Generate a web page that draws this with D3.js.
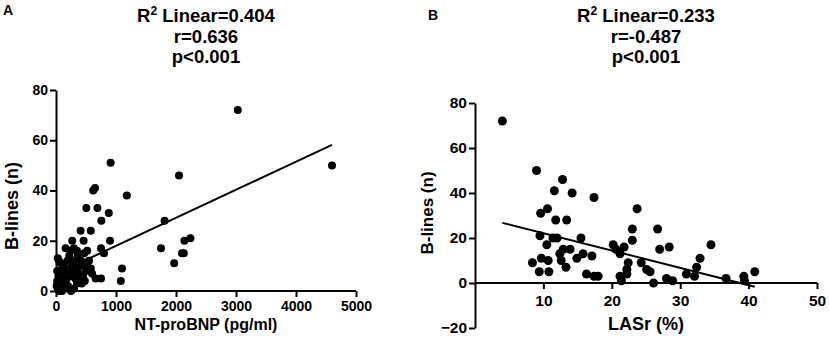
<!DOCTYPE html>
<html>
<head>
<meta charset="utf-8">
<script src="https://cdn.jsdelivr.net/npm/d3@7"></script>
<style>
  body { margin: 0; background: #fff; }
  svg { font-family: "Liberation Sans", Arial, sans-serif; font-weight: bold; }
</style>
</head>
<body>
<script>
const width = 829;
const height = 345;

// Panel A: NT-proBNP (pg/ml) vs B-lines (n)
const bnpX = [3030, 4600, 2050, 1810, 1750, 2140, 2240, 2100, 2130, 1970,
  910, 620, 650, 1180, 505, 690, 880, 755, 410, 580, 270, 460, 900, 160, 750, 800, 1100, 1080, 660, 750,
  30, 50, 80, 120, 60, 100, 40, 150, 200, 20, 70, 110, 30, 50, 90, 130, 180, 160, 200, 240,
  260, 300, 280, 320, 350, 380, 400, 420, 360, 220, 240, 190, 330, 450, 480, 500, 520, 550, 580, 600,
  430, 300, 250, 150, 100, 10, 20, 350, 300, 470, 520, 400];
const bnpY = [72, 50, 46, 28, 17, 20, 21, 15, 15, 11,
  51, 40, 41, 38, 33, 33, 31, 28, 24, 24, 20, 20, 20, 17, 17, 15, 9, 4, 5, 5,
  13, 12, 11, 10, 8, 7, 6, 9, 8, 4, 3, 2, 1, 0, 5, 4, 5, 3, 2, 6,
  10, 12, 8, 5, 3, 7, 10, 12, 14, 14, 16, 12, 9, 6, 4, 8, 10, 12, 9, 7,
  3, 1, 0, 1, 0, 2, 8, 16, 17, 15, 16, 5];
const fitA = { intercept: 6.8, slope: 0.01117 };
const statsA = ["0.404", "r=0.636", "p<0.001"];

// Panel B: LASr (%) vs B-lines (n)
const lasX = [4, 9, 12.8, 11.6, 14.2, 17.4, 9.6, 10.6, 11.8, 13.4,
  9.5, 11.4, 12, 15.5, 10.5, 12.9, 13.9, 12.4, 14.9, 15.8, 17.1, 8.4, 9.7, 10.7, 9.4, 10.8, 12.6, 13.3, 16.3, 17.4, 18,
  23.7, 23, 23, 26.7, 20.2, 20.6, 21.8, 21.2, 27, 28.4, 34.5, 22.4, 24.3, 22.2, 22.2, 25.1, 25.6,
  21.2, 21.4, 26.1, 28, 28.9, 30.9, 32.1, 32.4, 32.9, 36.7, 39.3, 39.4, 40.9];
const lasY = [72, 50, 46, 41, 40, 38, 31, 33, 28, 28,
  21, 20, 20, 20, 17, 15, 15, 13, 11, 13, 12, 9, 11, 10, 5, 5, 10, 7, 4, 3, 3,
  33, 24, 19, 24, 17, 15, 16, 13, 15, 16, 17, 9, 9, 6, 4, 6, 5,
  3, 1, 0, 2, 1, 4, 3, 7, 11, 2, 3, 1, 5];
const fitB = { intercept: 29.8, slope: -0.769 };
const statsB = ["0.233", "r=-0.487", "p<0.001"];

const svg = d3.select("body").append("svg")
    .attr("width", width)
    .attr("height", height);

function drawPanel(o) {
    const x = d3.scaleLinear().domain(o.xDomain).range([o.left, o.right]);
    const y = d3.scaleLinear().domain(o.yDomain).range([o.bottom, o.top]);
    const g = svg.append("g");

    // panel letter
    g.append("text")
        .attr("x", o.letterX).attr("y", o.letterY)
        .attr("font-size", 14)
        .text(o.letter);

    // stats title
    const cx = (o.left + o.right) / 2;
    const t = g.append("text").attr("x", cx).attr("y", 22)
        .attr("text-anchor", "middle").attr("font-size", 18.5);
    t.append("tspan").text("R");
    t.append("tspan").attr("font-size", 12).attr("dy", -7).text("2");
    t.append("tspan").attr("dy", 7).text(" Linear=" + o.stats[0]);
    g.append("text").attr("x", cx).attr("y", 43)
        .attr("text-anchor", "middle").attr("font-size", 18.5).text(o.stats[1]);
    g.append("text").attr("x", cx).attr("y", 63)
        .attr("text-anchor", "middle").attr("font-size", 18.5).text(o.stats[2]);

    // axes
    const yAxis = g.append("g")
        .attr("transform", `translate(${o.left},0)`)
        .call(d3.axisLeft(y).tickValues(o.yTicks).tickFormat(d3.format("d"))
            .tickSize(6).tickPadding(2).tickSizeOuter(0));
    const xAxis = g.append("g")
        .attr("transform", `translate(0,${y(0)})`)
        .call(d3.axisBottom(x).tickValues(o.xTicks).tickFormat(d3.format("d"))
            .tickSize(6).tickPadding(o.xPad).tickSizeOuter(0));
    [yAxis, xAxis].forEach(a => {
        a.selectAll("path, line").attr("stroke", "#000").attr("stroke-width", 2);
        a.selectAll("text").attr("fill", "#000").attr("font-size", o.tickFont)
            .attr("font-family", "Liberation Sans, Arial, sans-serif").attr("font-weight", "bold");
    });
    xAxis.select(".domain").attr("d", `M${o.left},0H${o.right}`);

    // axis titles
    g.append("text")
        .attr("x", cx).attr("y", 330)
        .attr("text-anchor", "middle").attr("font-size", o.xLabelFont)
        .text(o.xLabel);
    g.append("text")
        .attr("transform", `translate(${o.yLabelX},${o.yLabelY}) rotate(-90)`)
        .attr("text-anchor", "middle").attr("font-size", o.yLabelFont)
        .text("B-lines (n)");

    // points
    g.append("g").selectAll("circle")
        .data(o.xs.map((v, i) => [v, o.ys[i]]))
        .enter().append("circle")
        .attr("cx", d => x(d[0]))
        .attr("cy", d => y(d[1]))
        .attr("r", o.r)
        .attr("fill", "#000");

    // regression line over the data range
    const [x0, x1] = d3.extent(o.xs);
    g.append("line")
        .attr("x1", x(x0)).attr("y1", y(o.fit.intercept + o.fit.slope * x0))
        .attr("x2", x(x1)).attr("y2", y(o.fit.intercept + o.fit.slope * x1))
        .attr("stroke", "#000").attr("stroke-width", 2);
}

drawPanel({
    letter: "A", letterX: 3, letterY: 15,
    xs: bnpX, ys: bnpY, fit: fitA, stats: statsA,
    xDomain: [0, 5000], yDomain: [0, 80],
    left: 56, right: 356, top: 90, bottom: 291,
    xTicks: [0, 1000, 2000, 3000, 4000, 5000], yTicks: [0, 20, 40, 60, 80],
    tickFont: 14, xPad: 4, r: 4,
    xLabel: "NT-proBNP (pg/ml)", xLabelFont: 16,
    yLabelX: 18, yLabelY: 206, yLabelFont: 18
});

drawPanel({
    letter: "B", letterX: 428, letterY: 20,
    xs: lasX, ys: lasY, fit: fitB, stats: statsB,
    xDomain: [0, 50], yDomain: [-20, 80],
    left: 475, right: 817, top: 103, bottom: 328,
    xTicks: [10, 20, 30, 40, 50], yTicks: [-20, 0, 20, 40, 60, 80],
    tickFont: 15.5, xPad: 6, r: 4.5,
    xLabel: "LASr (%)", xLabelFont: 18,
    yLabelX: 433, yLabelY: 213, yLabelFont: 17
});
</script>
</body>
</html>
